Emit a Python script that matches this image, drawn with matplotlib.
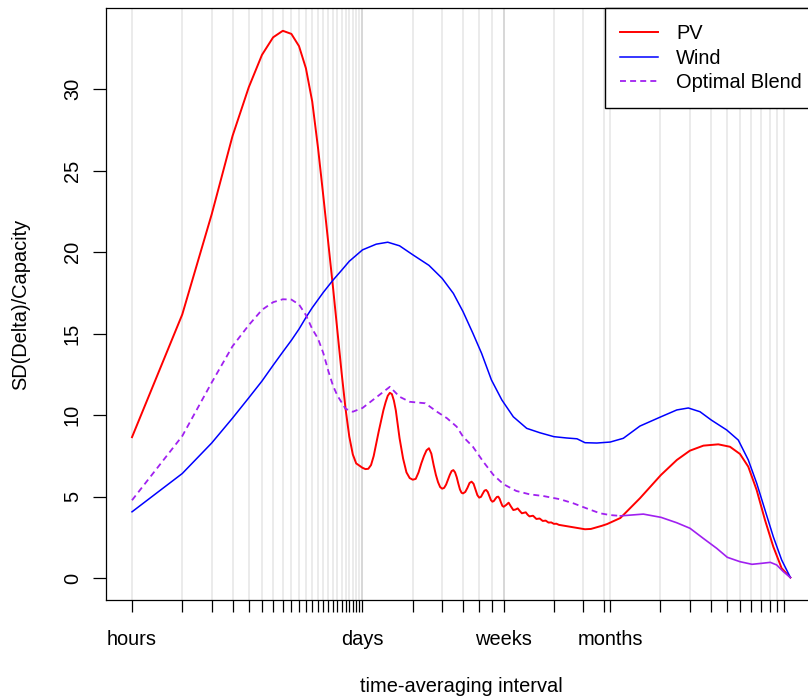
import matplotlib
matplotlib.use("Agg")
import matplotlib.pyplot as plt
from matplotlib.ticker import FixedLocator, FixedFormatter, NullLocator

plt.rcParams['font.family'] = ['Liberation Sans', 'DejaVu Sans']

# ---------------- data (hours, SD(Delta)/Capacity) ----------------
pv_hours = [1, 2, 3, 4, 5, 6, 7, 8, 9, 10, 11, 12,
            13, 14, 15, 16, 17, 18, 19, 20, 21, 22,
            24, 25, 26, 27, 28,
            30, 32, 33, 34, 35, 36, 37, 38, 40, 42, 44, 46, 48,
            50, 52, 54, 56, 58, 60, 62, 64, 66, 68, 70, 72,
            74, 76, 78, 80, 82, 84, 86, 88, 90, 92, 94, 96,
            99, 102, 105, 108, 111, 114, 117, 120, 123, 126, 129, 132,
            135, 138, 141, 144, 147, 150, 153, 156, 159, 162, 165, 168,
            174, 180, 186, 192, 198, 204, 210, 216, 222, 228, 234, 240,
            252, 264, 276, 288, 300, 312, 324, 336, 348, 360,
            400, 440, 480, 516, 560, 600, 650, 700, 760, 840,
            1100, 1470, 1830, 2190, 2640, 3240, 3810, 4370, 4900, 5500,
            6170, 6920, 7770, 8760]
pv_values = [8.66, 16.19, 22.33, 27.14, 30.12, 32.11, 33.19, 33.59, 33.40, 32.65, 31.29, 29.25,
             26.4, 23.4, 20.5, 17.8, 15.1, 12.6, 10.4, 8.7, 7.6, 7.05,
             6.78, 6.70, 6.72, 6.95, 7.5,
             9.0, 10.3, 10.8, 11.2, 11.38, 11.3, 10.9, 10.3, 8.6, 7.35, 6.5, 6.15, 6.05,
             6.1, 6.5, 7.05, 7.5, 7.85, 7.98, 7.65, 6.95, 6.35, 5.9, 5.6, 5.5,
             5.55, 5.75, 6.05, 6.35, 6.58, 6.64, 6.5, 6.2, 5.8, 5.45, 5.25, 5.21,
             5.3, 5.55, 5.85, 5.93, 5.8, 5.45, 5.1, 4.95, 5.0, 5.2, 5.38, 5.42,
             5.3, 5.05, 4.8, 4.70, 4.75, 4.88, 4.99, 5.01, 4.88, 4.65, 4.45, 4.39,
             4.5, 4.64, 4.4, 4.19, 4.22, 4.29, 4.13, 3.99, 4.02, 4.05, 3.9, 3.80,
             3.84, 3.64, 3.67, 3.52, 3.54, 3.42, 3.43, 3.34, 3.35, 3.28,
             3.20, 3.13, 3.06, 3.01, 3.03, 3.12, 3.22, 3.33, 3.50, 3.70,
             4.91, 6.34, 7.26, 7.83, 8.14, 8.22, 8.07, 7.63, 6.85, 5.42,
             3.58, 1.94, 0.61, 0.05]

wind_hours = [1, 2, 3, 4, 5, 6, 7, 8, 9, 10, 11, 12,
              14, 16, 18, 20, 24,
              29, 34, 40, 48, 60, 72, 84, 96,
              110, 124, 142, 164, 192, 231, 277, 336,
              400, 462, 516, 607, 730, 875,
              1100, 1470, 1830, 2144, 2519, 2943, 3640, 4272, 4902, 5505,
              6172, 6921, 7770, 8760]
wind_values = [4.08, 6.43, 8.30, 9.83, 11.07, 12.1, 13.07, 13.89, 14.6, 15.29, 16.0, 16.6,
               17.55, 18.3, 18.9, 19.45, 20.15,
               20.5, 20.62, 20.40, 19.85, 19.2, 18.4, 17.48, 16.36,
               15.03, 13.80, 12.17, 10.94, 9.91, 9.20, 8.93, 8.69,
               8.61, 8.56, 8.32, 8.30, 8.36, 8.59,
               9.34, 9.91, 10.33, 10.45, 10.22, 9.71, 9.10, 8.48, 7.26, 5.83,
               4.19, 2.55, 1.12, 0.05]

# Optimal blend: dashed part, then the part drawn solid in the original
blend_hours = [1, 2, 3, 4, 5, 6, 7, 8, 9, 10, 11, 12, 13, 14, 15, 16, 17,
               19, 21, 24, 29, 35, 40, 46, 57, 67, 77, 88, 96,
               110, 127, 146, 168, 200, 241, 290, 366, 440, 528, 634, 730, 840]
blend_values = [4.79, 8.73, 12.01, 14.24, 15.53, 16.47, 16.94, 17.12, 17.10, 16.80, 16.15, 15.3,
                14.7, 13.8, 12.7, 11.8, 11.2,
                10.4, 10.22, 10.45, 11.1, 11.75, 11.14, 10.83, 10.74, 10.22, 9.82, 9.3, 8.69,
                8.07, 7.15, 6.34, 5.77, 5.36, 5.15, 5.05, 4.85, 4.60, 4.29, 3.99, 3.88, 3.83]
blend_solid_hours = [840, 1153, 1472, 1827, 2194, 2636, 3171, 3670, 4372, 5160,
                     5898, 6641, 7254, 7945, 8760]
blend_solid_values = [3.83, 3.94, 3.74, 3.41, 3.07, 2.45, 1.84, 1.29, 1.02, 0.86,
                      0.92, 0.98, 0.82, 0.41, 0.05]

# tick marks (hours)
hour_ticks = [1, 2, 3, 4, 5, 6, 7, 8, 9, 10, 11, 12, 13, 14, 15, 16, 17, 18,
              19, 20, 21, 22, 23, 24]
day_ticks = [24, 48, 72, 96, 120, 144, 168]
week_ticks = [168, 336, 504, 672]
month_ticks = [730, 1460, 2190, 2920, 3650, 4380, 5110, 5840, 6570, 7300, 8030]
label_ticks = [1, 24, 168, 730]
label_texts = ['hours', 'days', 'weeks', 'months']
y_ticks = [0, 5, 10, 15, 20, 25, 30]

# ---------------- figure ----------------
W, H = 808, 699
fig = plt.figure(figsize=(W / 100, H / 100), dpi=100)
ax_l, ax_r, ax_t, ax_b = 105.7, 816.6, 8.3, 600.0
ax = fig.add_axes([ax_l / W, 1 - ax_b / H, (ax_r - ax_l) / W, (ax_b - ax_t) / H])

ax.set_xscale('log')
ax.set_xlim(10 ** -0.1575, 10 ** 4.0994)
ax.set_ylim(-1.33, 34.97)

# gridlines, one set per tick group (overlaps get darker, as in the original)
for group in (hour_ticks, day_ticks, week_ticks, month_ticks):
    for t in group:
        ax.axvline(t, color='black', alpha=0.1, lw=1.1, zorder=0)

all_ticks = sorted(set(hour_ticks + day_ticks + week_ticks + month_ticks))
tick_text = [label_texts[label_ticks.index(t)] if t in label_ticks else '' for t in all_ticks]
ax.xaxis.set_major_locator(FixedLocator(all_ticks))
ax.xaxis.set_major_formatter(FixedFormatter(tick_text))
ax.xaxis.set_minor_locator(NullLocator())
ax.set_yticks(y_ticks)

ax.tick_params(axis='x', length=8.8, width=0.9, pad=13, labelsize=14.4, direction='out')
ax.tick_params(axis='y', length=9.1, width=0.9, pad=8, labelsize=14.4, direction='out',
               labelrotation=90)
for lbl in ax.get_yticklabels():
    lbl.set_verticalalignment('center')

for sp in ax.spines.values():
    sp.set_linewidth(0.9)
    sp.set_color('black')

ax.plot(pv_hours, pv_values, color='#FF0000', lw=1.4, label='PV', zorder=3)
ax.plot(wind_hours, wind_values, color='#0000FF', lw=1.1, label='Wind', zorder=3)
ax.plot(blend_hours, blend_values, color='#A020F0', lw=1.3, dashes=(3.3, 2.3),
        label='Optimal Blend', zorder=3)
ax.plot(blend_solid_hours, blend_solid_values, color='#A020F0', lw=1.2, zorder=3)

leg = ax.legend(loc='upper left', bbox_to_anchor=((604.7 - ax_l) / (ax_r - ax_l), 1.0),
                borderaxespad=0, fontsize=14.4, frameon=True, fancybox=False,
                edgecolor='black', framealpha=1, borderpad=0.78, handlelength=1.9,
                handletextpad=0.9, labelspacing=0.29)
leg.get_frame().set_linewidth(1.0)

ax.set_xlabel('time-averaging interval', fontsize=14.4, va='center')
ax.xaxis.set_label_coords(0.5, (ax_b - 686) / (ax_b - ax_t))
ax.set_ylabel('SD(Delta)/Capacity', fontsize=14.4, va='center', ha='center')
ax.yaxis.set_label_coords((21 - ax_l) / (ax_r - ax_l), 0.5)

fig.savefig('out.png', dpi=100)
